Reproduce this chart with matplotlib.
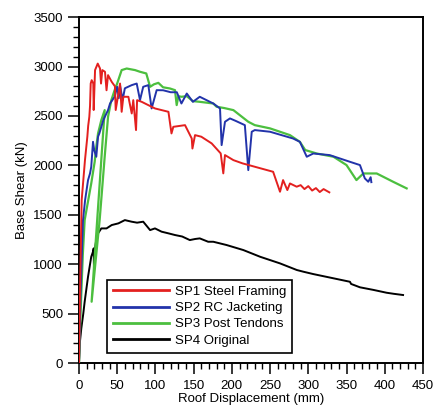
import matplotlib
matplotlib.use("Agg")
import matplotlib.pyplot as plt
from matplotlib.ticker import MultipleLocator

plt.rcParams['font.family'] = ['Liberation Sans', 'DejaVu Sans']

# SP1 Steel Framing
sp1_x = [0, 1.5, 3.5, 7.8, 10.9, 12, 13.5, 14.4, 15.3, 16.6, 18.7, 19.2, 21, 24.5, 27.5, 28.8,
         30.5, 34, 36, 38, 42.8, 47, 48, 53.7, 55.8, 58, 64.6, 69, 71, 74.6, 76, 82, 99.4,
         117, 121, 123.4, 138.7, 147.5, 148.4, 151.8, 160, 173.6, 185.4, 188.8, 191, 202,
         214, 230, 254, 263, 267, 272.6, 276, 284.8, 290, 295, 300, 305, 310, 315, 320, 327.5]
sp1_y = [0, 800, 1650, 2053, 2290, 2400, 2492, 2600, 2828, 2862, 2828, 2560, 2964, 3030, 2980, 2828,
         2964, 2947, 2760, 2913, 2845, 2800, 2560, 2828, 2542, 2694, 2694, 2525, 2660, 2357, 2660, 2643, 2576,
         2542, 2323, 2390, 2407, 2272, 2170, 2306, 2290, 2222, 2121, 1919, 2104, 2053,
         2020, 1986, 1935, 1733, 1851, 1750, 1817, 1784, 1800, 1760, 1790, 1745, 1770, 1730, 1760, 1727]

# SP2 RC Jacketing
sp2_x = [0, 2, 5.2, 8, 11.8, 14.4, 16, 18.3, 20, 22.6, 24.9, 26.6, 31.8, 38, 40.6, 46.6, 50, 52,
         53.7, 57, 60, 69, 75.5, 79.8, 84, 90.7, 95, 101.6, 110, 120, 128, 134, 141, 149, 158,
         175.7, 184.5, 186.6, 191, 197.5, 205, 217, 221.5, 226, 230, 250, 280, 289, 298, 306.5,
         328, 354.5, 367.6, 374, 378.5, 381.6, 382.5]
sp2_y = [0, 700, 1446, 1650, 1850, 1918, 1985, 2238, 2150, 2087, 2290, 2323, 2458, 2560, 2626, 2694, 2795, 2680,
         2812, 2660, 2780, 2812, 2828, 2660, 2795, 2812, 2576, 2761, 2760, 2740, 2740, 2626, 2727, 2643, 2694,
         2626, 2576, 2205, 2441, 2475, 2450, 2407, 1952, 2340, 2357, 2340, 2272, 2238, 2087, 2120,
         2104, 2036, 2003, 1868, 1834, 1880, 1830]

# SP3 Post Tendons
sp3_x = [0, 2, 5, 7.4, 16, 20.5, 22.6, 24.9, 29.2, 33.6, 16.5, 27, 33.6, 38, 42.3, 46.6, 50,
         55.8, 62.4, 73.3, 79.8, 88, 93, 98, 103.8, 110, 119, 125.6, 127.8, 130, 134, 141, 149,
         158, 175.7, 180, 190, 202, 221.5, 230, 250, 276, 289, 296, 311, 333, 350, 363, 372,
         389.5, 411, 428.7]
sp3_y = [0, 500, 1100, 1446, 1817, 2036, 2188, 2323, 2458, 2559, 620, 1446, 2087, 2492, 2660, 2761, 2830,
         2964, 2980, 2964, 2947, 2930, 2795, 2820, 2835, 2790, 2778, 2761, 2610, 2700, 2694, 2700, 2650,
         2643, 2626, 2593, 2580, 2559, 2441, 2407, 2374, 2306, 2238, 2155, 2120, 2087, 2003, 1851, 1918,
         1918, 1834, 1767]

# SP4 Original
sp4_x = [0, 1, 3, 5.6, 7.4, 11.8, 16, 18.3, 19.2, 19.6, 20.5, 22.6, 24.9, 29.2, 36, 42.8, 51.5,
         60, 68.8, 76, 84, 93, 99.4, 108, 117, 125.6, 135, 145, 152, 158, 169, 175.7, 193, 215,
         237, 263, 285, 293.5, 306.5, 333, 354.5, 356, 367.6, 385, 402.5, 412, 424]
sp4_y = [0, 200, 350, 500, 620, 873, 1075, 1126, 1160, 941, 1143, 1244, 1312, 1362, 1362, 1396, 1413,
         1446, 1430, 1420, 1430, 1345, 1362, 1329, 1312, 1295, 1280, 1244, 1255, 1261, 1227, 1227, 1194, 1143,
         1075, 1008, 941, 924, 900, 857, 822, 800, 766, 740, 711, 700, 688]

labels = ["SP1 Steel Framing", "SP2 RC Jacketing", "SP3 Post Tendons", "SP4 Original"]
colors = ["#e3201f", "#2233aa", "#4cbf3f", "black"]

fig = plt.figure(figsize=(4.37, 4.05), dpi=100)
ax = fig.add_axes([0.1808, 0.1037, 0.787, 0.854])

ax.plot(sp4_x, sp4_y, color=colors[3], lw=1.4, label=labels[3], zorder=2)
ax.plot(sp3_x, sp3_y, color=colors[2], lw=1.6, label=labels[2], zorder=3)
ax.plot(sp2_x, sp2_y, color=colors[1], lw=1.4, label=labels[1], zorder=4)
ax.plot(sp1_x, sp1_y, color=colors[0], lw=1.4, label=labels[0], zorder=5)

ax.set_xlim(0, 450)
ax.set_ylim(0, 3500)
ax.xaxis.set_major_locator(MultipleLocator(50))
ax.xaxis.set_minor_locator(MultipleLocator(10))
ax.yaxis.set_major_locator(MultipleLocator(500))
ax.yaxis.set_minor_locator(MultipleLocator(100))
ax.tick_params(which='major', direction='out', length=8, width=1.1, labelsize=9.5, top=False, right=False)
ax.tick_params(which='minor', direction='out', length=4.5, width=1.0, top=False, right=False)
ax.tick_params(axis='x', which='major', pad=4)
ax.tick_params(axis='y', which='major', pad=3.5)
for s in ax.spines.values():
    s.set_linewidth(1.4)

ax.set_xlabel("Roof Displacement (mm)", fontsize=9.5, labelpad=1)
ax.set_ylabel("Base Shear (kN)", fontsize=9.5, labelpad=4)

h, l = ax.get_legend_handles_labels()
leg = ax.legend(h[::-1], l[::-1], loc='lower left', bbox_to_anchor=(0.082, 0.03), borderaxespad=0,
                fontsize=9.5, handlelength=4.2, handletextpad=0.45, labelspacing=0.3,
                fancybox=False, edgecolor='black', framealpha=1, borderpad=0.45)
leg.get_frame().set_linewidth(1.2)
for line in leg.get_lines():
    line.set_linewidth(2)

fig.savefig("out.png", dpi=100)
